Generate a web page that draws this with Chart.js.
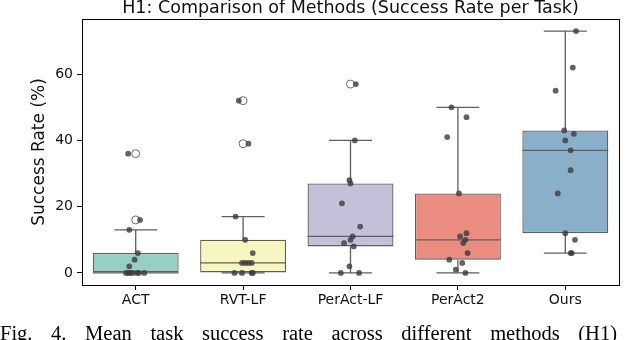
<!DOCTYPE html>
<html>
<head>
  <meta charset="UTF-8">
  <title>H1: Comparison of Methods</title>
  <script src="https://cdn.jsdelivr.net/npm/chart.js@4.4.1/dist/chart.umd.min.js"></script>
  <style>
    body { margin: 0; background: #fff; }
    #wrap { position: relative; width: 640px; height: 340px; overflow: hidden; }
    #caption {
      position: absolute; left: 0; top: 323px; white-space: nowrap;
      font: 20.5px "Liberation Serif", serif; line-height: 1; color: #000;
      word-spacing: 13.5px;
    }
  </style>
</head>
<body>
<div id="wrap">
  <canvas id="chart" width="640" height="340"></canvas>
  <div id="caption">Fig. 4. Mean task success rate across different methods (H1)</div>
</div>

<script>
// success rate per task (%), one value per task
var methods = ["ACT", "RVT-LF", "PerAct-LF", "PerAct2", "Ours"];
var actRates = [0, 0, 0, 0, 0, 0, 0, 2, 4, 6, 13, 16, 36];
var rvtRates = [0, 0, 0, 0, 3, 3, 3, 3, 6, 10, 17, 39, 52];
var peractLfRates = [0, 0, 2, 8, 9, 10, 11, 14, 21, 27, 28, 40, 57];
var peract2Rates = [0, 1, 3, 4, 6, 9, 10, 11, 12, 24, 41, 47, 50];
var oursRates = [6, 6, 10, 12, 24, 31, 37, 40, 42, 43, 55, 62, 73];
var yTicks = [0, 20, 40, 60];

// horizontal strip jitter (category units), same order as the rates above
var actJitter = [-0.09, -0.07, -0.05, -0.03, 0.01, 0.03, 0.08, -0.06, -0.01, 0.02, -0.06, 0.04, -0.07];
var rvtJitter = [-0.08, -0.01, 0.08, 0.09, -0.01, 0.02, 0.05, 0.08, 0.09, 0.02, -0.07, 0.05, -0.04];
var peractLfJitter = [-0.09, 0.08, -0.01, 0.03, -0.06, 0.0, 0.02, 0.09, -0.08, 0.0, -0.01, 0.04, 0.05];
var peract2Jitter = [0.07, -0.02, 0.04, -0.08, 0.09, 0.05, 0.07, 0.02, 0.08, 0.01, -0.1, 0.08, -0.06];
var oursJitter = [0.06, 0.05, 0.09, 0.0, -0.07, 0.05, 0.05, 0.0, 0.08, -0.01, -0.09, 0.07, 0.1];

var allRates = [actRates, rvtRates, peractLfRates, peract2Rates, oursRates];
var allJitter = [actJitter, rvtJitter, peractLfJitter, peract2Jitter, oursJitter];

var boxColors = ["#98cfc5", "#f7f5c0", "#c3c0d9", "#eb8c80", "#8aafcb"];
var lineColor = "#5f5f5f";

function percentile(sorted, p) {
  var idx = (sorted.length - 1) * p;
  var lo = Math.floor(idx), hi = Math.ceil(idx);
  return sorted[lo] + (sorted[hi] - sorted[lo]) * (idx - lo);
}

function boxStats(values) {
  var s = values.slice().sort(function (a, b) { return a - b; });
  var q1 = percentile(s, 0.25), med = percentile(s, 0.5), q3 = percentile(s, 0.75);
  var iqr = q3 - q1;
  var inside = s.filter(function (v) { return v >= q1 - 1.5 * iqr && v <= q3 + 1.5 * iqr; });
  return {
    q1: q1, med: med, q3: q3,
    lo: inside[0], hi: inside[inside.length - 1],
    out: s.filter(function (v) { return v < q1 - 1.5 * iqr || v > q3 + 1.5 * iqr; })
  };
}

var stats = allRates.map(boxStats);

var boxData = [], whiskerData = [], stripData = [], flierData = [];
stats.forEach(function (st, i) {
  boxData.push({ x: i, y: [st.q1, st.q3] });
  // whiskers, caps and median, separated by gaps
  whiskerData.push({ x: i, y: st.q3 }, { x: i, y: st.hi }, { x: i, y: null });
  whiskerData.push({ x: i, y: st.q1 }, { x: i, y: st.lo }, { x: i, y: null });
  whiskerData.push({ x: i - 0.2, y: st.hi }, { x: i + 0.2, y: st.hi }, { x: i, y: null });
  whiskerData.push({ x: i - 0.2, y: st.lo }, { x: i + 0.2, y: st.lo }, { x: i, y: null });
  whiskerData.push({ x: i - 0.4, y: st.med }, { x: i + 0.4, y: st.med }, { x: i, y: null });
  st.out.forEach(function (v) { flierData.push({ x: i, y: v }); });
  allRates[i].forEach(function (v, k) { stripData.push({ x: i + allJitter[i][k], y: v }); });
});

var framePlugin = {
  id: "frame",
  afterDatasetsDraw: function (chart) {
    var a = chart.chartArea, ctx = chart.ctx;
    ctx.save();
    ctx.strokeStyle = "#000";
    ctx.lineWidth = 1;
    ctx.strokeRect(Math.round(a.left) + 0.5, Math.round(a.top) + 0.5,
      Math.round(a.right - a.left), Math.round(a.bottom - a.top));
    ctx.restore();
  }
};

Chart.defaults.font.family = "'DejaVu Sans', sans-serif";
Chart.defaults.color = "#111";

new Chart("chart", {
  type: "bar",
  data: {
    datasets: [{
      type: "bar",
      data: boxData,
      backgroundColor: boxColors,
      borderColor: lineColor,
      borderWidth: 1.3,
      borderSkipped: false,
      categoryPercentage: 1,
      barPercentage: 0.8,
      order: 4
    }, {
      type: "line",
      data: whiskerData,
      borderColor: lineColor,
      borderWidth: 1.3,
      pointRadius: 0,
      spanGaps: false,
      order: 3
    }, {
      type: "scatter",
      data: flierData,
      pointRadius: 4,
      backgroundColor: "#fff",
      borderColor: "#6a6a6a",
      borderWidth: 1,
      order: 2
    }, {
      type: "scatter",
      data: stripData,
      pointRadius: 2.9,
      backgroundColor: "rgba(60,60,60,0.8)",
      borderWidth: 0,
      order: 1
    }]
  },
  options: {
    responsive: false,
    animation: false,
    layout: { padding: { top: 0, right: 21, left: 0, bottom: 0 } },
    plugins: {
      legend: { display: false },
      tooltip: { enabled: false }
    },
    scales: {
      x: {
        type: "linear",
        min: -0.5,
        max: 4.5,
        offset: false,
        afterBuildTicks: function (scale) {
          scale.ticks = methods.map(function (m, i) { return { value: i }; });
        },
        afterFit: function (scale) { scale.height = 55; },
        ticks: {
          font: { size: 14 },
          padding: 2,
          callback: function (v) { return methods[v]; }
        },
        grid: { display: true, offset: false, drawOnChartArea: false, drawTicks: true, tickLength: 5, color: "#000" },
        border: { display: false }
      },
      // top axis only carries the chart title, centred over the plot area
      top: {
        type: "linear",
        position: "top",
        afterFit: function (scale) { scale.height = 19; },
        ticks: { display: false },
        grid: { display: false },
        border: { display: false },
        title: {
          display: true,
          text: "H1: Comparison of Methods (Success Rate per Task)",
          font: { size: 17.5, lineHeight: 1 },
          color: "#111",
          padding: { top: 0, bottom: 0 }
        }
      },
      y: {
        type: "linear",
        min: -3.65,
        max: 76.65,
        afterBuildTicks: function (scale) {
          scale.ticks = yTicks.map(function (v) { return { value: v }; });
        },
        afterFit: function (scale) { scale.width = 82; },
        ticks: { font: { size: 14 }, padding: 4 },
        grid: { display: true, drawOnChartArea: false, drawTicks: true, tickLength: 5, color: "#000" },
        border: { display: false },
        title: {
          display: true,
          text: "Success Rate (%)",
          font: { size: 17 },
          color: "#111",
          padding: { top: 29, bottom: 0 }
        }
      }
    }
  },
  plugins: [framePlugin]
});
</script>
</body>
</html>
